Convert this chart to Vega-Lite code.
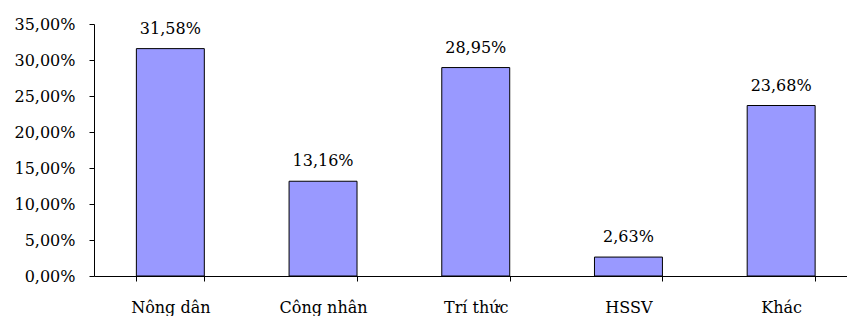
{
  "$schema": "https://vega.github.io/schema/vega-lite/v6.json",
  "autosize": "none",
  "width": 753,
  "height": 252,
  "padding": {"left": 94, "top": 24, "right": 0, "bottom": 40},
  "background": "white",
  "config": {
    "locale": {"number": {"decimal": ",", "thousands": ".", "grouping": [3], "currency": ["", " €"]}},
    "view": {"stroke": null},
    "font": "DejaVu Serif",
    "text": {"font": "DejaVu Serif"},
    "axis": {"labelFont": "DejaVu Serif", "labelColor": "#000", "domainColor": "#000", "tickColor": "#000", "grid": false, "title": null}
  },
  "data": {"values": [
    {"cat": "Nông dân", "v": 0.3158},
    {"cat": "Công nhân", "v": 0.1316},
    {"cat": "Trí thức", "v": 0.2895},
    {"cat": "HSSV", "v": 0.0263},
    {"cat": "Khác", "v": 0.2368}
  ]},
  "encoding": {
    "x": {"field": "cat", "type": "nominal", "sort": null,
      "scale": {"range": [0, 763.5], "paddingInner": 0.555, "paddingOuter": 0.2775},
      "axis": {"labelAngle": 0, "labelFontSize": 16, "tickBand": "extent", "ticks": true, "tickSize": 5, "tickWidth": 1, "labelPadding": 18, "domainWidth": 1}},
    "y": {"field": "v", "type": "quantitative",
      "scale": {"domain": [0, 0.35], "nice": false},
      "axis": {"values": [0, 0.05, 0.1, 0.15, 0.2, 0.25, 0.3, 0.35], "format": ".2%", "labelFontSize": 16, "tickSize": 5, "labelPadding": 14}}
  },
  "layer": [
    {"mark": {"type": "bar", "fill": "#9999FF", "stroke": "#000", "strokeWidth": 1}},
    {"mark": {"type": "text", "baseline": "alphabetic", "dy": -15, "fontSize": 16, "color": "#000", "font": "DejaVu Serif"},
      "encoding": {"text": {"field": "v", "type": "quantitative", "format": ".2%"}}}
  ]
}
